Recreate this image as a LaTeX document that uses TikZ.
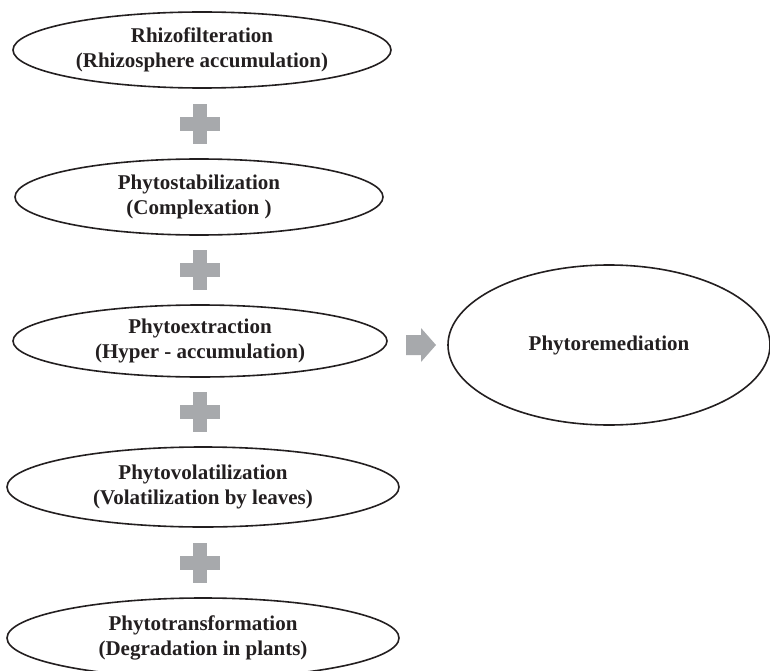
\documentclass[tikz,border=0pt]{standalone}
\usepackage{fontspec}
\setmainfont{Liberation Serif}
\usetikzlibrary{shapes.geometric}
\definecolor{inkdark}{HTML}{231F20}
\definecolor{plusgray}{HTML}{A7A9AC}
\tikzset{
  stage/.style={ellipse, draw=inkdark, line width=1.6pt, inner sep=0pt,
    align=center, text=inkdark,
    font=\fontsize{21}{25}\selectfont\bfseries},
  pics/plussign/.style={code={
    \fill[plusgray] (-20,-7) rectangle (20,7);
    \fill[plusgray] (-7,-20) rectangle (7,20);
  }}
}
\begin{document}
\begin{tikzpicture}[x=1pt,y=-1pt]
\useasboundingbox (0,0) rectangle (770,671);
\clip (0,0) rectangle (770,671);

% the five processes
\node[stage, minimum width=378pt, minimum height=76pt] (rhizo) at (202,50)
  {Rhizofilteration\\(Rhizosphere accumulation)};
\node[stage, minimum width=368pt, minimum height=76pt] (stab) at (199,197)
  {Phytostabilization\\(Complexation )};
\node[stage, minimum width=374pt, minimum height=72pt] (extr) at (200,341)
  {Phytoextraction\\(Hyper - accumulation)};
\node[stage, minimum width=392pt, minimum height=80pt] (vola) at (203,487)
  {Phytovolatilization\\(Volatilization by leaves)};
\node[stage, minimum width=392pt, minimum height=80pt] (trans) at (203,638)
  {Phytotransformation\\(Degradation in plants)};

% the result
\node[stage, minimum width=322pt, minimum height=160pt] (remed) at (609,345)
  {Phytoremediation};

% plus signs between the processes
\pic at (200,124) {plussign};
\pic at (200,270) {plussign};
\pic at (200,412) {plussign};
\pic at (200,563) {plussign};

% block arrow towards the result
\coordinate (arr) at (406,345);
\fill[plusgray] (arr) ++(0,-10) -- ++(15,0) -- ++(0,-7) -- ++(15,17)
  -- ++(-15,17) -- ++(0,-7) -- ++(-15,0) -- cycle;
\end{tikzpicture}
\end{document}
